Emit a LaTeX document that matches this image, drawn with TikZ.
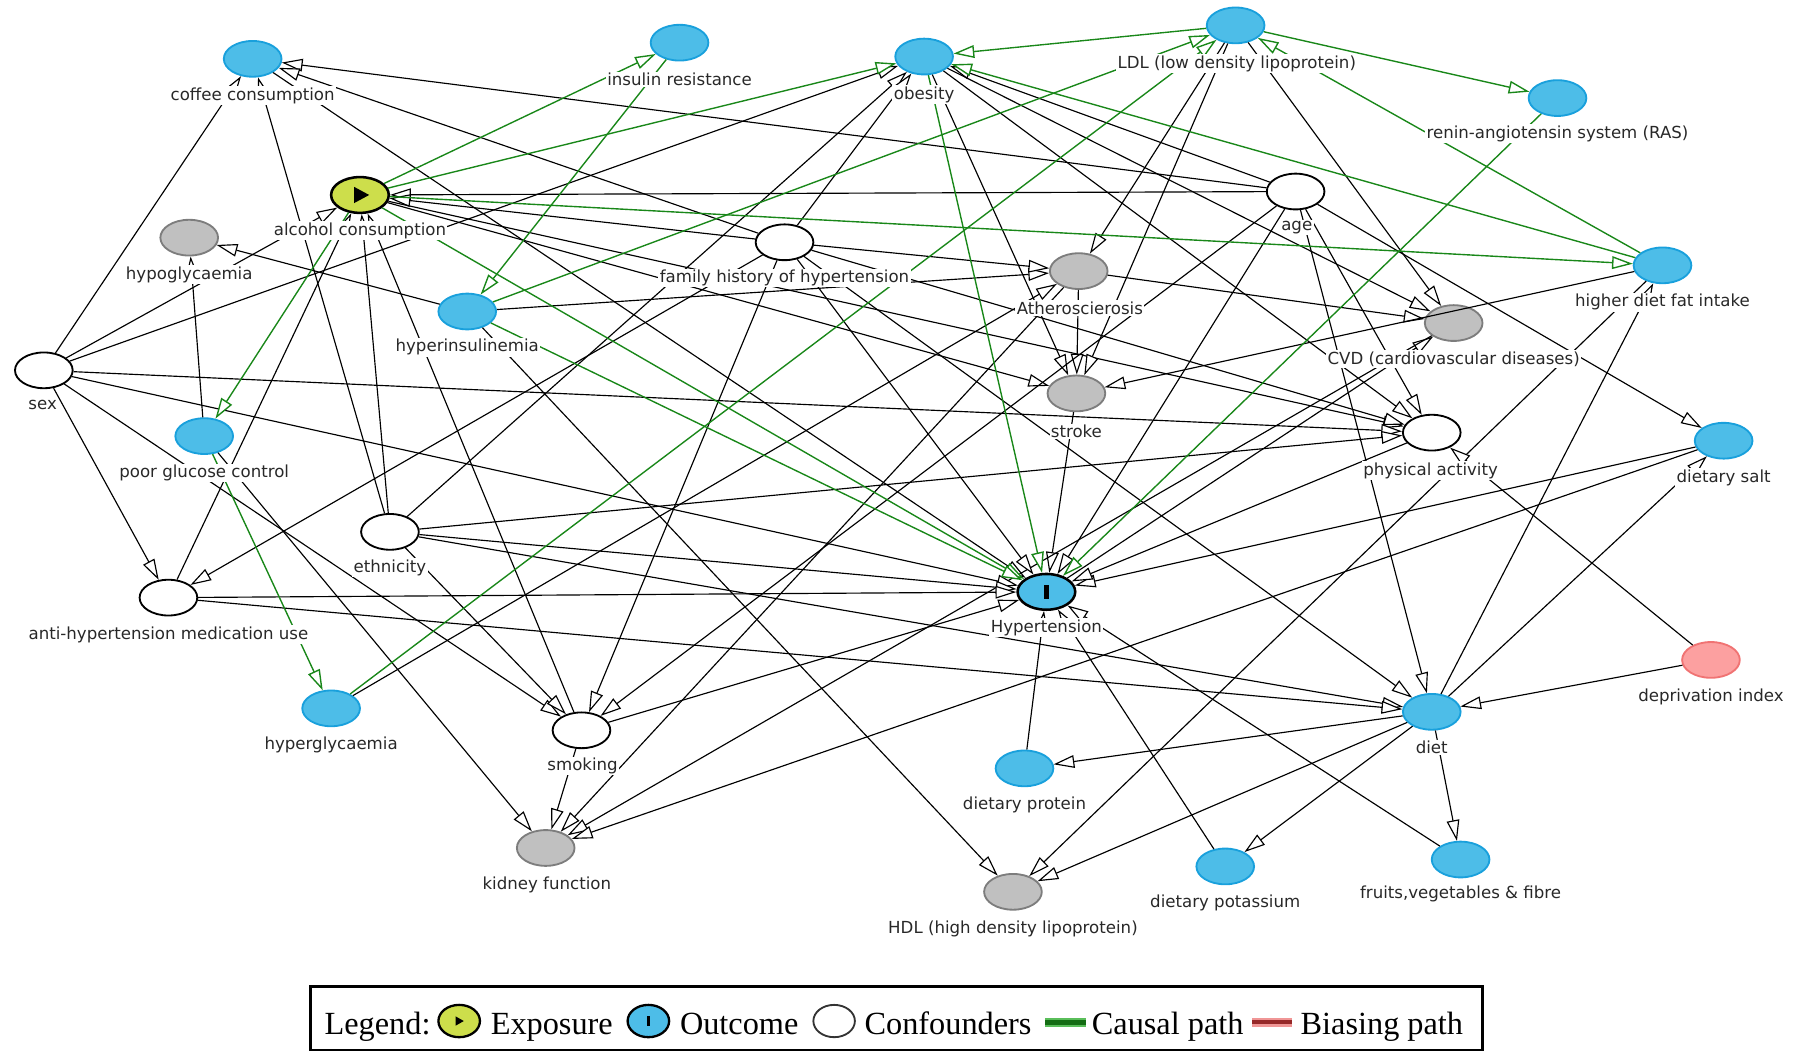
\documentclass[tikz,border=0pt]{standalone}
\usepackage{fontspec}
\setmainfont{Liberation Serif}
\newfontfamily\lblfont{DejaVu Sans}
\usetikzlibrary{arrows.meta,shapes.geometric}

\definecolor{nblue}{RGB}{77,189,232}
\definecolor{nbluedraw}{RGB}{25,160,220}
\definecolor{ngray}{RGB}{192,192,192}
\definecolor{ngraydraw}{RGB}{125,125,125}
\definecolor{nexp}{RGB}{205,222,75}
\definecolor{npink}{RGB}{252,160,160}
\definecolor{npinkdraw}{RGB}{240,115,115}
\definecolor{cgreen}{RGB}{25,135,25}
\definecolor{cgreenlight}{RGB}{90,190,90}
\definecolor{credlight}{RGB}{240,150,150}
\definecolor{creddark}{RGB}{150,40,40}
\definecolor{lbl}{RGB}{40,40,40}

\tikzset{
  nbase/.style={ellipse, minimum width=25pt, minimum height=15.5pt, inner sep=0pt, line width=0.8pt},
  bluenode/.style={nbase, fill=nblue, draw=nbluedraw},
  graynode/.style={nbase, fill=ngray, draw=ngraydraw},
  whitenode/.style={nbase, fill=white, draw=black},
  expnode/.style={nbase, fill=nexp, draw=black, line width=1.1pt},
  outnode/.style={nbase, fill=nblue, draw=black, line width=1.1pt},
  pinknode/.style={nbase, fill=npink, draw=npinkdraw},
  lab/.style={font=\lblfont\fontsize{7.2pt}{8.5pt}\selectfont, text=lbl, fill=white, inner sep=0.6pt},
  blk/.style={draw=black, line width=0.5pt, -{Triangle[length=9pt,width=5.5pt,fill=white]}},
  grn/.style={draw=cgreen, line width=0.6pt, -{Triangle[length=9pt,width=5.5pt,fill=white]}},
  legtext/.style={font=\fontsize{14pt}{16pt}\selectfont, anchor=base west, inner sep=0pt},
}

\begin{document}
\begin{tikzpicture}[x=0.5pt, y=-0.5pt]
\useasboundingbox (0,0) rectangle (1568,916);

% ---------- nodes ----------
\node[bluenode]  (coffee) at (219,51) {};
\node[bluenode]  (insres) at (589,37) {};
\node[bluenode]  (obes)   at (801,49) {};
\node[bluenode]  (ldl)    at (1071,22) {};
\node[bluenode]  (ras)    at (1350,85) {};
\node[expnode]   (alc)    at (312,169) {};
\node[whitenode] (age)    at (1123,166) {};
\node[graynode]  (hypo)   at (164,206) {};
\node[whitenode] (famh)   at (680,210) {};
\node[graynode]  (ath)    at (935,235) {};
\node[bluenode]  (fat)    at (1441,230) {};
\node[bluenode]  (hins)   at (405,270) {};
\node[graynode]  (cvd)    at (1260,280) {};
\node[whitenode] (sex)    at (38,321) {};
\node[graynode]  (stroke) at (933,341) {};
\node[bluenode]  (pgc)    at (177,378) {};
\node[whitenode] (phys)   at (1241,375) {};
\node[bluenode]  (salt)   at (1494,382) {};
\node[whitenode] (eth)    at (338,461) {};
\node[outnode]   (hyp)    at (907,513) {};
\node[whitenode] (ahm)    at (146,518) {};
\node[pinknode]  (dep)    at (1483,572) {};
\node[bluenode]  (diet)   at (1241,617) {};
\node[bluenode]  (hgly)   at (287,614) {};
\node[whitenode] (smk)    at (504,633) {};
\node[bluenode]  (prot)   at (888,666) {};
\node[graynode]  (kid)    at (473,735) {};
\node[bluenode]  (pot)    at (1062,751) {};
\node[bluenode]  (fruit)  at (1266,745) {};
\node[graynode]  (hdl)    at (878,773) {};

% icons inside exposure / outcome
\fill (alc.center) ++(-5,-7) -- ++(0,14) -- ++(13,-7) -- cycle;
\fill (hyp.center) ++(-2,-6) rectangle ++(4,12);

% ---------- black edges ----------
\foreach \a/\b in {
  age/coffee, famh/coffee, sex/coffee, eth/coffee, coffee/hyp,
  age/alc, famh/alc, sex/alc, eth/alc, smk/alc, ahm/alc, alc/phys, alc/stroke,
  age/obes, sex/obes, eth/obes, famh/obes, obes/stroke, obes/cvd, obes/phys,
  pgc/hypo, hins/hypo, hins/ath, hins/hdl,
  famh/ath, hgly/ath, ldl/ath, ldl/stroke, ldl/cvd,
  ath/stroke, ath/cvd, ath/kid,
  fat/stroke, fat/hdl, diet/fat,
  stroke/hyp, age/hyp, age/smk, age/diet, age/phys, age/salt,
  hyp/cvd, cvd/kid,
  sex/ahm, sex/smk, sex/phys, sex/hyp,
  famh/ahm, famh/hyp, famh/smk, famh/phys, famh/diet,
  eth/smk, eth/phys, eth/hyp, eth/diet,
  ahm/hyp, ahm/diet,
  pgc/kid, smk/kid, smk/hyp,
  salt/kid, salt/hyp, phys/hyp,
  dep/phys, dep/diet,
  diet/salt, diet/prot, diet/pot, diet/fruit, diet/hdl,
  prot/hyp, pot/hyp, fruit/hyp}
  \draw[blk] (\a) -- (\b);

% ---------- green (causal) edges ----------
\foreach \a/\b in {
  alc/insres, alc/obes, alc/fat, alc/hyp, alc/pgc,
  insres/hins, pgc/hgly, hgly/ldl, hins/ldl, hins/hyp,
  ldl/obes, ldl/ras, fat/obes, fat/ldl, obes/hyp, ras/hyp}
  \draw[grn] (\a) -- (\b);

% ---------- labels ----------
\node[lab] (coffeeL) at (219,83)   {coffee consumption};
\node[lab] (insresL) at (589,69)   {insulin resistance};
\node[lab] (obesL)   at (801,82)   {obesity};
\node[lab] (ldlL)    at (1072,55)  {LDL (low density lipoprotein)};
\node[lab] (rasL)    at (1350,116) {renin-angiotensin system (RAS)};
\node[lab] (alcL)    at (312,200)  {alcohol consumption};
\node[lab] (ageL)    at (1124,197) {age};
\node[lab] (hypoL)   at (164,238)  {hypoglycaemia};
\node[lab] (famhL)   at (680,241)  {family history of hypertension};
\node[lab] (athL)    at (936,267)  {Atheroscierosis};
\node[lab] (fatL)    at (1441,262) {higher diet fat intake};
\node[lab] (hinsL)   at (405,301)  {hyperinsulinemia};
\node[lab] (cvdL)    at (1260,311) {CVD (cardiovascular diseases)};
\node[lab] (sexL)    at (37,351)   {sex};
\node[lab] (strokeL) at (933,374)  {stroke};
\node[lab] (pgcL)    at (177,410)  {poor glucose control};
\node[lab] (physL)   at (1240,408) {physical activity};
\node[lab] (saltL)   at (1494,414) {dietary salt};
\node[lab] (ethL)    at (338,492)  {ethnicity};
\node[lab] (hypL)    at (907,544)  {Hypertension};
\node[lab] (ahmL)    at (146,550)  {anti-hypertension medication use};
\node[lab] (depL)    at (1483,604) {deprivation index};
\node[lab] (dietL)   at (1241,648) {diet};
\node[lab] (hglyL)   at (287,646)  {hyperglycaemia};
\node[lab] (smkL)    at (505,664)  {smoking};
\node[lab] (protL)   at (888,698)  {dietary protein};
\node[lab] (kidL)    at (474,767)  {kidney function};
\node[lab] (potL)    at (1062,783) {dietary potassium};
\node[lab] (fruitL)  at (1266,775) {fruits,vegetables \& fibre};
\node[lab] (hdlL)    at (878,805)  {HDL (high density lipoprotein)};

% ---------- legend ----------
\draw[line width=1pt] (269,855) rectangle (1285,910);
\node[legtext] (lgT) at (281,897) {Legend:};
\node[expnode, minimum width=18pt, minimum height=14pt, line width=1pt] (lgE) at (398,885) {};
\fill (lgE.center) ++(-3,-4) -- ++(0,8) -- ++(7,-4) -- cycle;
\node[legtext] (lgEt) at (425,897) {Exposure};
\node[outnode, minimum width=18pt, minimum height=14pt, line width=1pt] (lgO) at (562,885) {};
\fill (lgO.center) ++(-1.5,-4.5) rectangle ++(3,9);
\node[legtext] (lgOt) at (589,897) {Outcome};
\node[whitenode, minimum width=18pt, minimum height=14pt, line width=0.8pt, draw=black!80] (lgC) at (723,885) {};
\node[legtext] (lgCt) at (749,897) {Confounders};
\fill[cgreenlight] (906,882) rectangle (941,890);
\fill[cgreen!80!black] (906,884) rectangle (941,888);
\node[legtext] (lgGt) at (946,897) {Causal path};
\fill[credlight] (1085,882) rectangle (1120,890);
\fill[creddark] (1085,884.5) rectangle (1120,887.5);
\node[legtext] (lgRt) at (1127,897) {Biasing path};
\end{tikzpicture}
\end{document}
